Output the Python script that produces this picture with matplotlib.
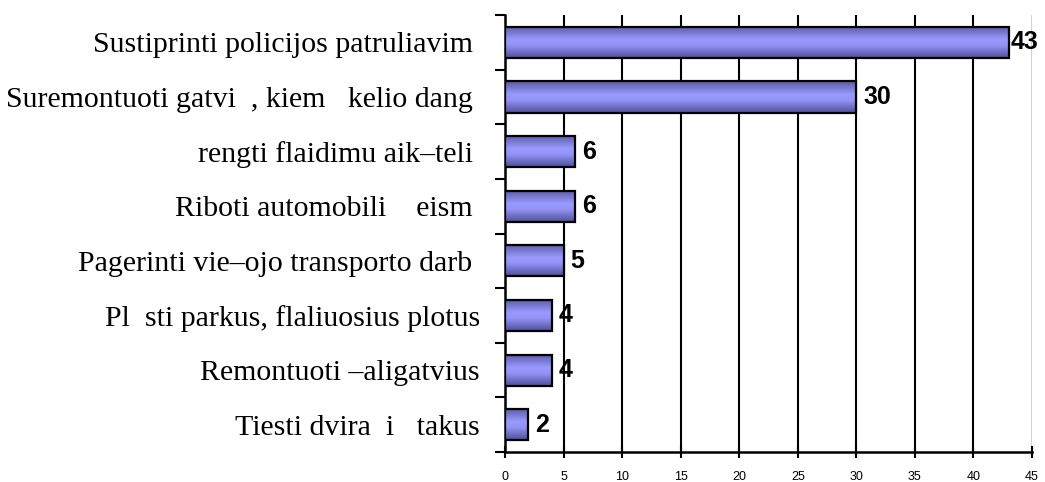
import matplotlib

matplotlib.use("Agg")
import matplotlib.pyplot as plt
import numpy as np
from matplotlib.colors import LinearSegmentedColormap

# survey answers, top to bottom as in the chart (blanks are glyphs the source lost)
categories = [
    "Sustiprinti policijos patruliavim ",
    "Suremontuoti gatvi  , kiem   kelio dang ",
    "rengti flaidimu aik\u2013teli ",
    "Riboti automobili    eism ",
    "Pagerinti vie\u2013ojo transporto darb ",
    "Pl  sti parkus, flaliuosius plotus",
    "Remontuoti \u2013aligatvius",
    "Tiesti dvira  i   takus",
]
values = [43, 30, 6, 6, 5, 4, 4, 2]
xticks = list(range(0, 50, 5))

fig = plt.figure(figsize=(10.45, 4.82), dpi=100)
ax = fig.add_axes([0.4833, 0.0622, 0.5043, 0.9067])

n = len(categories)
ypos = np.arange(n)[::-1]
bars = ax.barh(ypos, values, height=0.57, color="none", edgecolor="black", lw=1.6, zorder=4)

# shaded fill inside each bar: dark edges, light band just above middle
shade = LinearSegmentedColormap.from_list(
    "shade", [(0.0, "#5a5aa8"), (0.42, "#9a9aff"), (0.6, "#9494f6"), (1.0, "#50509a")]
)
grad = np.linspace(0, 1, 64).reshape(-1, 1)
for b in bars:
    x0, y0, w, h = b.get_x(), b.get_y(), b.get_width(), b.get_height()
    im = ax.imshow(grad, cmap=shade, aspect="auto", extent=(x0, x0 + w, y0, y0 + h),
                   origin="upper", zorder=3, interpolation="bilinear")
    im.set_clip_path(b)

for y, v in zip(ypos, values):
    # the longest bar's label is squeezed against the plot edge
    off = 0.2 if v == max(values) else 0.6
    ax.text(v + off, y, str(v), va="center", ha="left", fontsize=18,
            fontweight="bold", family="Liberation Sans", zorder=5)

ax.set_xlim(0, 45)
ax.set_ylim(-0.5, n - 0.5)
for x in xticks[1:-1]:
    ax.axvline(x, color="black", lw=1.5, zorder=1)
ax.axvline(45, color="#c8c8c8", lw=1.2, zorder=1)

ax.set_xticks(xticks)
ax.set_xticklabels([str(t) for t in xticks], family="Liberation Sans", fontsize=9)
ax.tick_params(axis="x", direction="inout", length=8, width=1.5, pad=10)

ax.set_yticks(ypos)
ax.set_yticklabels(categories, family="Liberation Serif", fontsize=21.5)
ax.tick_params(axis="y", length=0, pad=18)
ax.set_yticks(np.arange(-0.5, n, 1.0), minor=True)
ax.tick_params(axis="y", which="minor", length=7.5, width=1.5, direction="out")

for s in ("top", "right"):
    ax.spines[s].set_visible(False)
ax.spines["left"].set_linewidth(1.8)
ax.spines["bottom"].set_linewidth(1.8)

fig.savefig("out.png", dpi=100)
